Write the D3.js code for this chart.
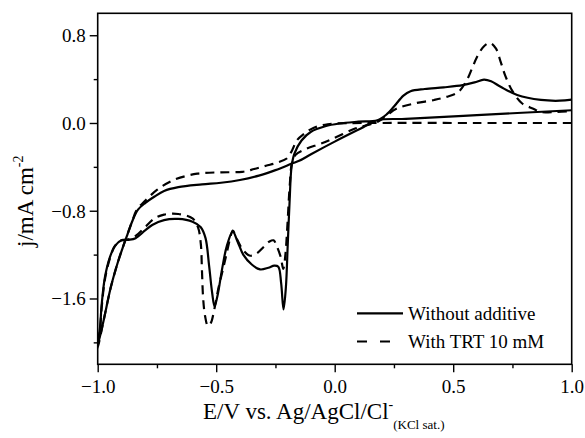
<!DOCTYPE html>
<html><head><meta charset="utf-8">
<script src="https://cdn.jsdelivr.net/npm/d3@7"></script>
<style>body{margin:0;background:#fff} text{font-family:"Liberation Serif","Times New Roman",serif;fill:#000}</style>
</head><body><svg id="c" width="585" height="438"></svg>
<script>
const xTicks=[-1.0,-0.5,0.0,0.5,1.0];
const xMinor=[-0.75,-0.25,0.25,0.75];
const yTicks=[-1.6,-0.8,0.0,0.8];
const yMinor=[-2.0,-1.2,-0.4,0.4];
const seriesNames=["Without additive","With TRT 10 mM"];
// Without additive: potential (V) and current density (mA cm-2), sweep order
const withoutE=[1.00,0.60,0.30,0.18,0.11,0.00,-0.10,-0.15,-0.18,-0.25,-0.32,-0.40,-0.48,-0.56,-0.66,-0.72,-0.76,-0.80,-0.83,-0.855,-0.875,-0.895,-0.915,-0.945,-0.975,-1.00,
 -0.99,-0.983,-0.969,-0.948,-0.927,-0.90,-0.87,-0.84,-0.80,-0.77,-0.72,-0.66,-0.60,-0.565,-0.545,-0.53,-0.517,-0.507,-0.495,-0.475,-0.455,-0.43,-0.41,-0.386,-0.35,-0.315,-0.28,-0.255,-0.238,-0.226,-0.216,-0.206,-0.198,-0.19,-0.182,-0.17,-0.14,-0.10,-0.04,0.02,0.10,0.18,0.22,0.25,0.29,0.32,0.38,0.46,0.54,0.59,0.63,0.66,0.70,0.77,0.87,0.95,1.00];
const withoutJ=[0.116,0.072,0.038,0.025,-0.05,-0.17,-0.285,-0.345,-0.37,-0.43,-0.48,-0.52,-0.545,-0.56,-0.585,-0.62,-0.67,-0.73,-0.79,-0.90,-1.02,-1.14,-1.27,-1.50,-1.80,-2.03,
 -1.86,-1.65,-1.40,-1.22,-1.12,-1.07,-1.065,-1.05,-0.98,-0.93,-0.885,-0.875,-0.90,-0.95,-1.05,-1.30,-1.55,-1.67,-1.58,-1.33,-1.12,-0.99,-1.08,-1.20,-1.29,-1.335,-1.32,-1.30,-1.31,-1.46,-1.70,-1.50,-1.10,-0.70,-0.40,-0.28,-0.16,-0.08,-0.03,-0.005,0.012,0.025,0.08,0.15,0.25,0.29,0.31,0.325,0.345,0.37,0.395,0.38,0.33,0.255,0.21,0.203,0.213];
// With TRT 10 mM
const trtE=[1.00,0.60,0.20,0.05,-0.03,-0.09,-0.13,-0.16,-0.18,-0.20,-0.24,-0.29,-0.34,-0.39,-0.48,-0.58,-0.68,-0.75,-0.80,-0.835,-0.855,-0.875,-0.895,-0.915,-0.945,-0.975,-1.00,
 -0.99,-0.983,-0.969,-0.948,-0.927,-0.90,-0.87,-0.84,-0.80,-0.76,-0.72,-0.66,-0.60,-0.577,-0.565,-0.56,-0.555,-0.547,-0.535,-0.522,-0.51,-0.49,-0.47,-0.455,-0.44,-0.43,-0.41,-0.386,-0.357,-0.33,-0.30,-0.275,-0.258,-0.245,-0.228,-0.217,-0.208,-0.20,-0.19,-0.18,-0.165,-0.12,-0.06,-0.006,0.086,0.18,0.22,0.26,0.33,0.42,0.47,0.52,0.555,0.58,0.60,0.63,0.655,0.68,0.70,0.72,0.75,0.79,0.838,0.87,0.93,1.00];
const trtJ=[0.0,0.0,0.0,-0.002,-0.012,-0.045,-0.10,-0.16,-0.25,-0.32,-0.36,-0.39,-0.42,-0.445,-0.45,-0.462,-0.52,-0.61,-0.71,-0.79,-0.90,-1.02,-1.14,-1.27,-1.50,-1.80,-2.05,
 -1.88,-1.68,-1.42,-1.23,-1.12,-1.07,-1.06,-1.03,-0.95,-0.87,-0.835,-0.83,-0.87,-0.95,-1.10,-1.35,-1.60,-1.76,-1.85,-1.82,-1.72,-1.50,-1.32,-1.18,-1.04,-0.98,-1.07,-1.16,-1.21,-1.19,-1.13,-1.08,-1.07,-1.12,-1.22,-1.33,-1.20,-0.95,-0.58,-0.36,-0.29,-0.235,-0.19,-0.142,-0.051,0.01,0.07,0.13,0.175,0.21,0.237,0.28,0.38,0.50,0.60,0.70,0.73,0.68,0.56,0.43,0.29,0.18,0.13,0.10,0.10,0.11];

const svg=d3.select("#c");
const L=97.7,R=571.7,T=13.3,B=364.3;
const x=d3.scaleLinear().domain([-1,1]).range([L,R]);
const y=d3.scaleLinear().domain([-2.2,1.0]).range([B,T]);

const clip=svg.append("clipPath").attr("id","pc").append("rect").attr("x",L).attr("y",T).attr("width",R-L).attr("height",B-T);
const line=d3.line().x(d=>x(d[0])).y(d=>y(d[1])).curve(d3.curveCatmullRom.alpha(0.5));
const s1=withoutE.map((e,i)=>[e,withoutJ[i]]);
const s2=trtE.map((e,i)=>[e,trtJ[i]]);
const g=svg.append("g").attr("clip-path","url(#pc)");
g.append("path").attr("d",line(s1)).attr("fill","none").attr("stroke","#000").attr("stroke-width",2.2);
g.append("path").attr("d",line(s2)).attr("fill","none").attr("stroke","#000").attr("stroke-width",2.2).attr("stroke-dasharray","9,6");

// axes
const xa=svg.append("g").attr("transform",`translate(0,${B})`).call(d3.axisBottom(x).tickValues(xTicks).tickFormat(d3.format(".1f")).tickSize(8).tickSizeOuter(0));
svg.append("g").attr("transform",`translate(0,${B})`).call(d3.axisBottom(x).tickValues(xMinor).tickFormat("").tickSize(4).tickSizeOuter(0)).select(".domain").remove();
const ya=svg.append("g").attr("transform",`translate(${L},0)`).call(d3.axisLeft(y).tickValues(yTicks).tickFormat(d3.format(".1f")).tickSize(8).tickSizeOuter(0));
svg.append("g").attr("transform",`translate(${L},0)`).call(d3.axisLeft(y).tickValues(yMinor).tickFormat("").tickSize(4).tickSizeOuter(0)).select(".domain").remove();
svg.selectAll(".tick line").attr("stroke","#000").attr("stroke-width",1.4);
xa.selectAll(".tick text").attr("font-size",19).attr("font-family","Liberation Serif").attr("dy","0.95em");
ya.selectAll(".tick text").attr("font-size",19).attr("font-family","Liberation Serif").attr("x",-12).attr("dy","0.33em");
svg.selectAll(".domain").remove();
svg.append("rect").attr("x",L).attr("y",T).attr("width",R-L).attr("height",B-T).attr("fill","none").attr("stroke","#000").attr("stroke-width",1.6);

// axis titles
const xt=svg.append("text").attr("x",203).attr("y",419).attr("font-size",23);
xt.append("tspan").text("E/V vs. Ag/AgCl/Cl");
xt.append("tspan").attr("font-size",14).attr("dy",-10).text("-");
xt.append("tspan").attr("font-size",13).attr("dy",20).text("(KCl sat.)");
const yt=svg.append("text").attr("transform","translate(33,247) rotate(-90)").attr("font-size",23);
yt.append("tspan").text("j/mA cm");
yt.append("tspan").attr("font-size",14).attr("dy",-10).text("-2");

// legend
const lg=svg.append("g");
lg.append("line").attr("x1",357).attr("x2",403).attr("y1",313.3).attr("y2",313.3).attr("stroke","#000").attr("stroke-width",2.2);
lg.append("line").attr("x1",357).attr("x2",403).attr("y1",341.5).attr("y2",341.5).attr("stroke","#000").attr("stroke-width",2.2).attr("stroke-dasharray","10,13");
lg.append("text").attr("x",408).attr("y",319.5).attr("font-size",19).text(seriesNames[0]);
lg.append("text").attr("x",408).attr("y",348).attr("font-size",19).text(seriesNames[1]);
</script></body></html>
